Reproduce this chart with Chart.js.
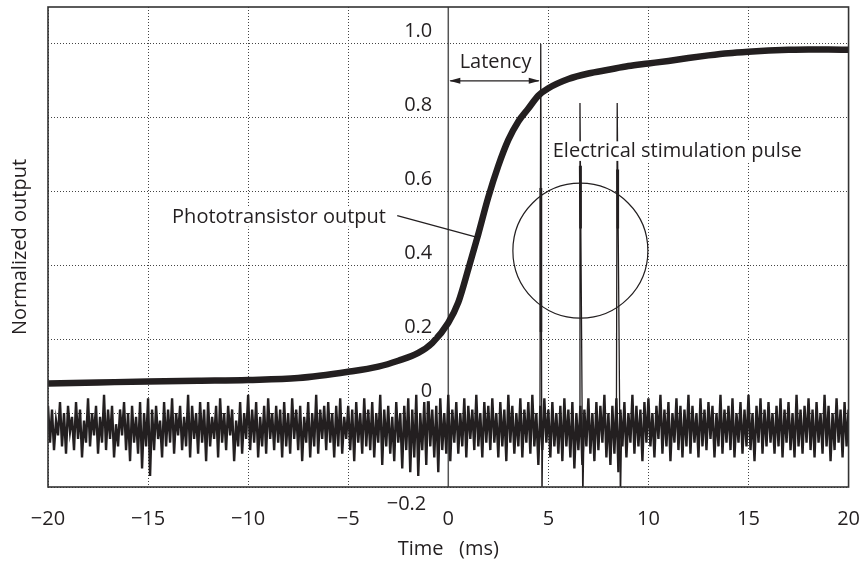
<!DOCTYPE html>
<html lang="en">
<head>
<meta charset="UTF-8">
<title>Phototransistor output vs electrical stimulation</title>
<script src="https://cdn.jsdelivr.net/npm/chart.js"></script>
<style>
    body { margin: 0; background: #fff; }
</style>
</head>
<body>
<canvas id="chart" width="860" height="561"></canvas>
<script>
// axis ticks
const timeTicks = [-20, -15, -10, -5, 0, 5, 10, 15, 20];
const outputTicks = [-0.2, 0, 0.2, 0.4, 0.6, 0.8, 1.0];
const outputTickLabels = ['\u22120.2', '0', '0.2', '0.4', '0.6', '0.8', '1.0'];

// phototransistor output (thick trace)
const photoTime = [-20, -17.5, -15, -12.5, -10, -7.5, -5, -3.5, -2.5, -1.5, -0.8, 0, 0.5, 1, 1.5, 2, 2.5, 3, 3.5, 4, 4.5, 5, 6, 7, 8, 9, 10, 11, 12, 13, 14, 15, 16, 17, 18, 19, 20];
const photoValue = [0.080, 0.083, 0.086, 0.088, 0.090, 0.095, 0.112, 0.126, 0.142, 0.163, 0.19, 0.245, 0.30, 0.39, 0.485, 0.585, 0.67, 0.74, 0.79, 0.825, 0.86, 0.88, 0.905, 0.92, 0.93, 0.94, 0.947, 0.954, 0.962, 0.969, 0.975, 0.979, 0.982, 0.984, 0.985, 0.985, 0.984];

// electrical noise trace, one sample every 0.1 ms from -20 ms (one row = 2 ms)
const noiseStart = -20;
const noiseStep = 0.1;
const noiseValue = [
    0.02, -0.08, 0.01, -0.10, -0.02, -0.06, 0.03, -0.09, 0.00, -0.11, 0.02, -0.05, -0.01, -0.10, 0.03, -0.07, 0.01, -0.12, -0.02, -0.08,
    0.04, -0.09, 0.00, -0.06, 0.02, -0.11, -0.01, -0.08, 0.05, -0.10, 0.01, -0.07, 0.02, -0.12, -0.03, -0.09, 0.01, -0.06, 0.03, -0.10,
    0.00, -0.13, 0.02, -0.08, -0.01, -0.11, 0.03, -0.15, 0.00, -0.09, 0.04, -0.17, 0.01, -0.10, 0.02, -0.07, -0.02, -0.12, 0.03, -0.09,
    0.01, -0.08, 0.04, -0.11, 0.00, -0.06, 0.02, -0.10, -0.01, -0.09, 0.05, -0.12, 0.02, -0.07, 0.00, -0.11, 0.03, -0.08, 0.01, -0.13,
    0.03, -0.09, -0.01, -0.07, 0.02, -0.12, 0.04, -0.08, 0.00, -0.10, 0.02, -0.06, 0.01, -0.13, -0.02, -0.09, 0.03, -0.11, 0.00, -0.07,
    0.05, -0.10, 0.01, -0.08, 0.03, -0.12, -0.01, -0.09, 0.02, -0.11, 0.04, -0.07, 0.00, -0.10, 0.02, -0.08, 0.01, -0.12, 0.03, -0.09,
    0.00, -0.11, 0.04, -0.07, 0.01, -0.10, 0.02, -0.13, -0.01, -0.08, 0.03, -0.12, 0.00, -0.09, 0.05, -0.11, 0.01, -0.07, 0.02, -0.10,
    0.03, -0.08, 0.00, -0.12, 0.02, -0.09, 0.04, -0.11, -0.01, -0.07, 0.02, -0.10, 0.01, -0.13, 0.03, -0.08, 0.00, -0.11, 0.04, -0.09,
    0.01, -0.10, 0.03, -0.12, 0.00, -0.08, 0.05, -0.14, 0.01, -0.09, 0.02, -0.11, -0.01, -0.13, 0.03, -0.08, 0.00, -0.15, 0.02, -0.10,
    0.04, -0.16, 0.01, -0.12, 0.05, -0.17, 0.00, -0.10, 0.03, -0.14, 0.06, -0.09, 0.01, -0.12, 0.02, -0.16, 0.04, -0.10, 0.00, -0.11,
    0.05, -0.13, 0.01, -0.08, 0.03, -0.11, 0.00, -0.09, 0.04, -0.12, 0.02, -0.07, 0.01, -0.10, 0.05, -0.09, 0.00, -0.12, 0.03, -0.08,
    0.02, -0.10, 0.04, -0.08, 0.00, -0.12, 0.03, -0.09, 0.01, -0.13, 0.05, -0.08, 0.02, -0.11, 0.00, -0.09, 0.04, -0.12, 0.01, -0.08,
    0.03, -0.11, 0.05, -0.09, 0.00, -0.14, 0.02, -0.10, 0.04, -0.08, 0.01, -0.12, 0.03, -0.09, 0.00, -0.11, 0.02, -0.13, 0.04, -0.09,
    0.01, -0.12, 0.03, -0.15, 0.00, -0.10, 0.02, -0.14, 0.01, -0.09, 0.04, -0.11, 0.00, -0.13, 0.03, -0.10, 0.02, -0.08, 0.05, -0.12,
    0.00, -0.14, 0.02, -0.11, 0.04, -0.16, 0.01, -0.09, 0.03, -0.12, 0.00, -0.08, 0.05, -0.11, 0.02, -0.09, 0.01, -0.13, 0.03, -0.08,
    0.04, -0.09, 0.00, -0.12, 0.02, -0.07, 0.05, -0.11, 0.01, -0.09, 0.03, -0.13, 0.00, -0.08, 0.04, -0.10, 0.02, -0.12, 0.01, -0.09,
    0.05, -0.11, 0.02, -0.08, 0.00, -0.12, 0.04, -0.09, 0.01, -0.10, 0.03, -0.07, 0.02, -0.12, 0.00, -0.09, 0.05, -0.11, 0.01, -0.08,
    0.02, -0.10, 0.04, -0.12, 0.00, -0.08, 0.03, -0.11, 0.01, -0.09, 0.05, -0.10, 0.00, -0.13, 0.02, -0.08, 0.04, -0.11, 0.01, -0.09,
    0.03, -0.08, 0.00, -0.11, 0.02, -0.09, 0.04, -0.12, 0.01, -0.08, 0.03, -0.10, 0.00, -0.12, 0.05, -0.09, 0.01, -0.11, 0.02, -0.08,
    0.04, -0.10, 0.01, -0.12, 0.03, -0.08, 0.00, -0.11, 0.05, -0.09, 0.02, -0.13, 0.00, -0.10, 0.04, -0.08, 0.01, -0.12, 0.03, -0.09,
    0.01
];

// stimulation pulse artefacts (null breaks the line)
const pulseTime = [4.58, 4.62, 4.68, 4.72, 4.73, 6.54, 6.58, 6.72, 6.78, 6.79, 8.40, 8.44, 8.60, 8.66];
const pulseValue = [-0.03, 1.0, -0.25, -0.04, null, -0.03, 0.84, -0.25, -0.05, null, -0.02, 0.84, -0.25, -0.05];
const pulseCoreTime = [4.62, 4.63, 4.635, 6.59, 6.61, 6.615, 8.45, 8.47];
const pulseCoreValue = [0.61, 0.22, null, 0.67, 0.50, null, 0.66, 0.50];

const ink = '#231f20';
const font = { family: 'Open Sans', size: 20 };

const toPoints = (xs, ys) => xs.map((x, i) => ({ x: x, y: ys[i] }));
const noisePoints = noiseValue.map((v, i) => ({ x: +(noiseStart + i * noiseStep).toFixed(2), y: v }));

// text with a white box behind it
function boxedText(ctx, text, px, py, align) {
    ctx.font = font.size + 'px "' + font.family + '"';
    const w = ctx.measureText(text).width;
    const left = align === 'right' ? px - w : (align === 'center' ? px - w / 2 : px);
    ctx.fillStyle = '#fff';
    ctx.fillRect(left - 2, py - font.size * 0.78, w + 4, font.size * 0.98);
    ctx.fillStyle = ink;
    ctx.textAlign = 'left';
    ctx.textBaseline = 'alphabetic';
    ctx.fillText(text, left, py);
}

function arrowHead(ctx, x, y, dir) {
    ctx.beginPath();
    ctx.moveTo(x, y);
    ctx.lineTo(x + dir * 11, y - 3);
    ctx.lineTo(x + dir * 11, y + 3);
    ctx.closePath();
    ctx.fill();
}

const notes = {
    id: 'notes',
    beforeDatasetsDraw(chart) {
        const { ctx, chartArea: a, scales: { x } } = chart;
        const x0 = x.getPixelForValue(0);
        ctx.save();
        ctx.strokeStyle = '#555';
        ctx.lineWidth = 1.5;
        ctx.beginPath();
        ctx.moveTo(x0, a.top);
        ctx.lineTo(x0, a.bottom);
        ctx.stroke();
        ctx.restore();
    },
    afterDatasetsDraw(chart) {
        const { ctx, chartArea: a, scales: { x, y } } = chart;
        const x0 = x.getPixelForValue(0);
        ctx.save();

        // y tick labels sit beside the t = 0 line
        outputTicks.forEach((v, i) => {
            let dy = -6.5, dx = -16;
            if (v === 0) dy = -16;
            if (v < 0) { dy = 23; dx = -22; }
            boxedText(ctx, outputTickLabels[i], x0 + dx, y.getPixelForValue(v) + dy, 'right');
        });

        // latency arrow
        const xp = x.getPixelForValue(4.62);
        const ya = y.getPixelForValue(0.9);
        ctx.strokeStyle = ink;
        ctx.fillStyle = ink;
        ctx.lineWidth = 1.2;
        ctx.beginPath();
        ctx.moveTo(x0 + 2, ya);
        ctx.lineTo(xp - 2, ya);
        ctx.stroke();
        arrowHead(ctx, x0 + 1, ya, 1);
        arrowHead(ctx, xp - 1, ya, -1);
        boxedText(ctx, 'Latency', (x0 + xp) / 2 + 1, ya - 13, 'center');

        // circle round the pulses
        ctx.lineWidth = 1.2;
        ctx.beginPath();
        ctx.arc(x.getPixelForValue(6.6), y.getPixelForValue(0.44), 67.5, 0, Math.PI * 2);
        ctx.stroke();

        boxedText(ctx, 'Electrical stimulation pulse', x.getPixelForValue(5.22), y.getPixelForValue(0.694), 'left');

        // phototransistor label and leader
        ctx.lineWidth = 1.2;
        ctx.beginPath();
        ctx.moveTo(x.getPixelForValue(-2.55), y.getPixelForValue(0.535));
        ctx.lineTo(x.getPixelForValue(1.45), y.getPixelForValue(0.476));
        ctx.stroke();
        boxedText(ctx, 'Phototransistor output', x.getPixelForValue(-13.8), y.getPixelForValue(0.516), 'left');

        // frame
        ctx.strokeStyle = '#333';
        ctx.lineWidth = 1.6;
        ctx.strokeRect(a.left, a.top, a.right - a.left, a.bottom - a.top);
        ctx.restore();
    }
};

new Chart(document.getElementById('chart'), {
    type: 'line',
    data: {
        datasets: [
            { data: noisePoints, borderColor: ink, borderWidth: 2.4, pointRadius: 0, tension: 0 },
            { data: toPoints(pulseTime, pulseValue), borderColor: ink, borderWidth: 1.3, pointRadius: 0, spanGaps: false },
            { data: toPoints(pulseCoreTime, pulseCoreValue), borderColor: ink, borderWidth: 2.6, pointRadius: 0, spanGaps: false },
            { data: toPoints(photoTime, photoValue), borderColor: ink, borderWidth: 6.5, pointRadius: 0, cubicInterpolationMode: 'monotone' }
        ]
    },
    options: {
        responsive: false,
        animation: false,
        layout: { padding: { top: 7, right: 11, left: 0, bottom: 0 } },
        plugins: { legend: { display: false }, tooltip: { enabled: false } },
        scales: {
            x: {
                type: 'linear',
                min: -20,
                max: 20,
                afterBuildTicks: s => { s.ticks = timeTicks.map(v => ({ value: v })); },
                afterFit: s => { s.height = 74; },
                grid: { color: '#444', lineWidth: 1, drawTicks: true, tickLength: 20, tickWidth: 0 },
                border: { display: false, dash: [1, 2] },
                ticks: {
                    padding: 0,
                    color: ink,
                    font: font,
                    callback: v => String(v).replace('-', '\u2212')
                },
                title: { display: true, text: 'Time   (ms)', color: ink, font: font, padding: { top: 0, bottom: 0 } }
            },
            y: {
                min: -0.2,
                max: 1.1,
                afterBuildTicks: s => { s.ticks = outputTicks.map(v => ({ value: v })); },
                afterFit: s => { s.width = 48; },
                grid: { color: '#444', lineWidth: 1, drawTicks: false },
                border: { display: false, dash: [1, 2] },
                ticks: { display: false },
                title: { display: true, text: 'Normalized output', color: ink, font: font, padding: { top: 8, bottom: 0 } }
            }
        }
    },
    plugins: [notes]
});
</script>
</body>
</html>
